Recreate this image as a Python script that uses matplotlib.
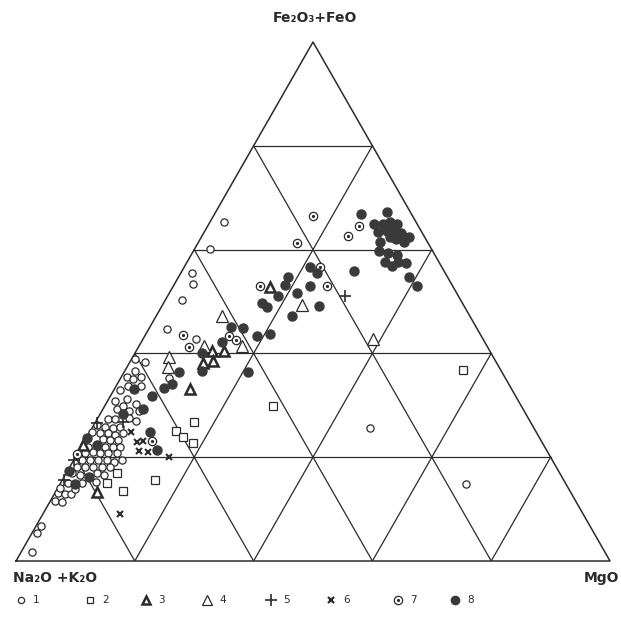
import numpy as np
import matplotlib.pyplot as plt

# AFM diagram: F = Fe2O3+FeO (%), M = MgO (%), Na2O+K2O = 100 - F - M

# 1 - open circles
s1_F = [65.3, 60.1, 55.5, 53.4, 50.3, 44.7, 42.8, 35.3, 38.3, 38.9, 25.6, 14.8,
        6.7, 5.4, 1.7,
        13.1, 11.6, 11.4, 12.9, 12.9, 13.9,
        36.6, 35.5, 35.1, 35.5, 33.7, 33.7, 32.9, 30.8, 31.2, 30.3, 29.3, 29.9,
        28.9, 28.9, 27.4, 27.4, 27.6, 27.0,
        26.2, 25.8, 25.6, 25.8,
        24.9, 24.7, 24.7, 24.3, 24.7,
        23.5, 23.3, 23.3,
        22.4, 22.0, 22.0, 22.0, 22.0,
        20.8, 21.0, 20.8, 20.8, 20.8,
        19.5, 19.5, 19.5, 19.5, 19.1, 19.5,
        18.1, 18.1, 18.1, 18.1, 18.1,
        17.0, 16.6, 17.0, 16.6,
        15.0, 15.0, 15.2, 14.1]
s1_M = [2.4, 2.6, 1.9, 3.1, 2.8, 3.1, 8.9, 8.1, 2.5, 0.6, 46.8, 68.3,
        0.8, 0.8, 1.8,
        0.5, 0.8, 2.1, 1.8, 2.8, 3.0,
        1.7, 1.0, 2.2, 3.3, 2.0, 4.2, 1.0, 1.3, 3.1, 5.1, 2.4, 3.1,
        4.6, 6.3, 1.8, 3.0, 5.2, 6.7,
        0.5, 2.1, 3.5, 4.6,
        0.4, 1.8, 3.2, 4.5, 5.7,
        2.9, 4.2, 5.5,
        0.2, 1.1, 4.0, 5.3, 6.5,
        1.2, 2.5, 3.7, 5.1, 6.6,
        1.4, 2.7, 4.1, 5.6, 7.0, 8.1,
        1.2, 2.6, 3.9, 5.4, 6.8,
        1.0, 2.5, 5.2, 6.5,
        1.2, 3.6, 5.9, 0.4]

# 2 - open squares
s2_F = [26.8, 25.0, 23.9, 22.7, 15.6, 13.5, 17.0, 15.0, 29.9, 36.8]
s2_M = [16.6, 14.4, 16.2, 18.4, 15.6, 11.3, 8.5, 7.8, 28.3, 56.9]

# 3 - bold triangles
s3_F = [52.8, 40.5, 40.5, 38.2, 38.5, 33.1, 22.4, 13.3]
s3_M = [16.4, 12.8, 14.8, 12.4, 13.9, 12.7, 0.0, 7.0]

# 4 - thin triangles
s4_F = [47.2, 41.4, 41.4, 49.3, 42.8, 39.3, 37.4]
s4_M = [11.1, 10.9, 17.3, 23.5, 38.7, 6.1, 6.9]

# 5 - crosses
s5_F = [51.1, 26.6, 26.8, 19.5, 15.6]
s5_M = [29.9, 0.3, 4.6, 0.0, 0.3]

# 6 - x
s6_F = [24.9, 22.9, 23.1, 21.2, 21.0, 20.0, 9.1]
s6_M = [6.9, 8.9, 9.8, 10.1, 11.7, 15.8, 13.0]

# 7 - dotted circles
s7_F = [66.5, 61.3, 64.5, 62.6, 56.6, 53.0, 53.0, 43.4, 42.6, 41.2, 43.5, 23.1, 20.6]
s7_M = [16.8, 16.7, 25.5, 24.6, 22.9, 14.6, 25.9, 14.2, 15.7, 8.5, 6.3, 11.3, 0.0]

# 8 - filled circles
s8_F = [66.9, 67.2, 64.9, 64.9, 65.3, 64.9, 63.4, 63.6, 63.8, 63.2, 62.4, 62.4,
        62.0, 61.5, 61.5, 59.7, 59.3, 59.0, 57.6, 56.8, 57.6, 57.4, 55.9, 54.7, 53.0,
        56.6, 55.5, 54.7, 53.2, 53.0, 51.6, 51.1, 49.7, 48.9, 49.1, 47.2, 45.1,
        44.9, 42.2, 43.4, 43.7, 40.1, 36.6, 36.4, 34.1, 33.3, 36.4, 31.8, 33.1,
        29.3, 28.3, 24.9, 21.4, 23.7, 22.4, 17.3, 16.2, 14.8]
s8_M = [24.7, 28.8, 27.8, 29.3, 30.3, 31.7, 29.2, 30.7, 31.6, 33.2, 34.9, 31.7,
        33.0, 34.6, 30.5, 31.2, 33.0, 34.7, 33.3, 34.9, 35.5, 36.9, 29.0, 38.8, 41.0,
        21.2, 22.9, 18.4, 18.7, 23.0, 21.5, 18.6, 16.6, 17.8, 26.4, 22.9, 13.7,
        15.8, 13.6, 18.9, 20.9, 11.3, 13.0, 9.2, 9.2, 8.3, 20.9, 7.0, 3.3,
        6.7, 3.9, 10.1, 13.0, 0.1, 2.5, 0.3, 4.2, 2.5]

legend_labels = ['1', '2', '3', '4', '5', '6', '7', '8']

H = np.sqrt(3) / 2


def to_xy(F, M):
    F = np.asarray(F, dtype=float)
    M = np.asarray(M, dtype=float)
    return M + F / 2, F * H


ink = '#2b2b2b'
fig = plt.figure(figsize=(6.21, 6.20), dpi=100)
ax = fig.add_axes([16 / 621, 59 / 620, 594 / 621, 519 / 620])
ax.set_xlim(0, 100)
ax.set_ylim(0, 100 * H)
ax.axis('off')

# outline
x, y = to_xy([0, 0, 100, 0], [0, 100, 0, 0])
ax.plot(x, y, color=ink, lw=1.1, clip_on=False)

# 20% grid, lines parallel to each side
for f in [20, 40, 60, 80]:
    x, y = to_xy([f, f], [0, 100 - f])
    ax.plot(x, y, color=ink, lw=0.9)
    x, y = to_xy([0, 100 - f], [f, f])
    ax.plot(x, y, color=ink, lw=0.9)
    x, y = to_xy([0, 100 - f], [100 - f, 0])
    ax.plot(x, y, color=ink, lw=0.9)

kw = dict(ls='none', clip_on=False, zorder=3)
x, y = to_xy(s1_F, s1_M)
ax.plot(x, y, marker='o', ms=5.2, mfc='white', mec=ink, mew=0.9, **kw)
x, y = to_xy(s2_F, s2_M)
ax.plot(x, y, marker='s', ms=5.2, mfc='white', mec=ink, mew=0.9, **kw)
x, y = to_xy(s3_F, s3_M)
ax.plot(x, y, marker='^', ms=7, mfc='white', mec=ink, mew=1.8, **kw)
x, y = to_xy(s4_F, s4_M)
ax.plot(x, y, marker='^', ms=8, mfc='white', mec=ink, mew=0.9, **kw)
x, y = to_xy(s5_F, s5_M)
ax.plot(x, y, marker='+', ms=8, mec=ink, mew=1.2, **kw)
x, y = to_xy(s6_F, s6_M)
ax.plot(x, y, marker='x', ms=5, mec=ink, mew=1.5, **kw)
x, y = to_xy(s7_F, s7_M)
ax.plot(x, y, marker='o', ms=6, mfc='white', mec=ink, mew=0.9, **kw)
ax.plot(x, y, marker='o', ms=1.3, mfc=ink, mec=ink, **kw)
x, y = to_xy(s8_F, s8_M)
ax.plot(x, y, marker='o', ms=6.5, mfc='#3a3a3a', mec='#3a3a3a', **kw)

# apex labels
tk = dict(color=ink, fontweight='bold', fontsize=10)
fig.text(315 / 621, 1 - 18 / 620, 'Fe\u2082O\u2083+FeO', ha='center', va='center', **tk)
fig.text(13 / 621, 1 - 578 / 620, 'Na\u2082O +K\u2082O', ha='left', va='center', **tk)
fig.text(619 / 621, 1 - 578 / 620, 'MgO', ha='right', va='center', **tk)

# legend row
lg = fig.add_axes([0, 0, 1, 1], facecolor='none')
lg.set_xlim(0, 621)
lg.set_ylim(620, 0)
lg.axis('off')
mark_x = [21, 90, 146, 207, 271, 331, 398, 455]
styles = [dict(marker='o', ms=4.5, mfc='white', mec=ink, mew=0.9),
          dict(marker='s', ms=5, mfc='white', mec=ink, mew=0.9),
          dict(marker='^', ms=6, mfc='white', mec=ink, mew=1.8),
          dict(marker='^', ms=7, mfc='white', mec=ink, mew=0.9),
          dict(marker='+', ms=8, mec=ink, mew=1.2),
          dict(marker='x', ms=5, mec=ink, mew=1.6),
          dict(marker='o', ms=6, mfc='white', mec=ink, mew=0.9),
          dict(marker='o', ms=6, mfc='#3a3a3a', mec='#3a3a3a')]
for mx, st, lab in zip(mark_x, styles, legend_labels):
    lg.plot([mx], [600], ls='none', **st)
    if lab == '7':
        lg.plot([mx], [600], ls='none', marker='o', ms=1.3, mfc=ink, mec=ink)
    lg.text(mx + 12, 600, lab, ha='left', va='center', fontsize=7.5, color=ink)

fig.savefig('out.png', dpi=100, facecolor='white')
